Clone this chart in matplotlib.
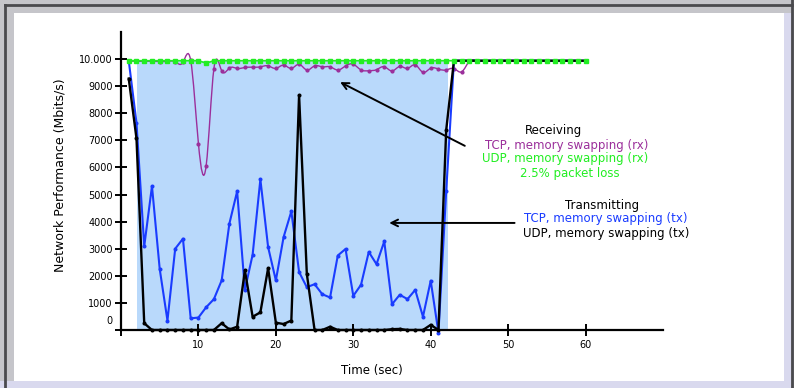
import numpy as np
import matplotlib.pyplot as plt
from matplotlib.patches import Rectangle, PathPatch
from matplotlib.path import Path
from matplotlib.lines import Line2D
from matplotlib.transforms import ScaledTranslation

# data, one value per second (t = 1 .. 60)
t = np.arange(1, 61)

udp_rx = [9940] * 10 + [9850] + [9940] * 49

tcp_rx = [9930, 9920, 9920, 9920, 9910, 9920, 9900, 9880, 9950, 6880,
          6070, 9650, 9570, 9670, 9655, 9690, 9700, 9715, 9750, 9655,
          9780, 9655, 9810, 9595, 9750, 9715, 9715, 9595, 9750, 9810,
          9600, 9570, 9610, 9720, 9560, 9730, 9655, 9790, 9510, 9665,
          9630, 9600, 9650, 9530, 9920] + [9940] * 15

tcp_tx = [9940, 7650, 3090, 5310, 2250, 350, 3000, 3370, 430, 460,
          840, 1140, 1830, 3930, 5120, 1480, 2780, 5560, 3060, 1830,
          3430, 4380, 2140, 1580, 1690, 1320, 1200, 2750, 2990, 1260,
          1670, 2880, 2430, 3270, 950, 1300, 1140, 1480, 490, 1820,
          -100, 5120] + [9940] * 18

udp_tx = [9280, 7070, 250, 0, 0, 0, 0, 0, 0, 0,
          0, 0, 250, 20, 120, 2200, 490, 650, 2280, 270,
          220, 350, 8670, 2070, 0, 0, 120, 0, 0, 0,
          0, 0, 0, 0, 30, 40, 0, 0, 0, 190,
          0, 7380] + [9940] * 18

# memory swapping period (shaded)
swap_start, swap_end, swap_top = 2.07, 42.2, 9940

yticks = [0, 1000, 2000, 3000, 4000, 5000, 6000, 7000, 8000, 9000, 10000]
ytick_labels = ['0', '1000', '2000', '3000', '4000', '5000', '6000',
                '7000', '8000', '9000', '10.000']
xticks = [0, 10, 20, 30, 40, 50, 60]
xtick_labels = ['', '10', '20', '30', '40', '50', '60']

c_purple = '#9b2f9b'
c_green = '#22ee22'
c_blue = '#1a3cff'
c_shade = '#b9d9fb'


def spline_path(x, y):
    # natural cubic spline drawn as bezier segments
    x = np.asarray(x, float)
    y = np.asarray(y, float)
    n = len(x)
    h = np.diff(x)
    A = np.zeros((n, n))
    r = np.zeros(n)
    A[0, 0] = 1
    A[-1, -1] = 1
    for i in range(1, n - 1):
        A[i, i - 1] = h[i - 1]
        A[i, i] = 2 * (h[i - 1] + h[i])
        A[i, i + 1] = h[i]
        r[i] = 6 * ((y[i + 1] - y[i]) / h[i] - (y[i] - y[i - 1]) / h[i - 1])
    M = np.linalg.solve(A, r)
    verts = [(x[0], y[0])]
    codes = [Path.MOVETO]
    for i in range(n - 1):
        s = (y[i + 1] - y[i]) / h[i]
        d0 = s - h[i] * (2 * M[i] + M[i + 1]) / 6
        d1 = s + h[i] * (M[i] + 2 * M[i + 1]) / 6
        verts += [(x[i] + h[i] / 3, y[i] + d0 * h[i] / 3),
                  (x[i + 1] - h[i] / 3, y[i + 1] - d1 * h[i] / 3),
                  (x[i + 1], y[i + 1])]
        codes += [Path.CURVE4] * 3
    return Path(verts, codes)


W, H = 794, 388
fig = plt.figure(figsize=(W / 100, H / 100), dpi=100)
fig.patch.set_facecolor('#c5c5ca')

# window frame, in pixels (y counted from the top)
def px_rect(x0, y0, x1, y1, color):
    fig.patches.append(Rectangle((x0, H - y1), x1 - x0, y1 - y0, transform=None,
                                 facecolor=color, edgecolor='none', zorder=-10))

px_rect(0, 381, 791, 388, '#d9d9ee')
px_rect(784, 13, 791, 381, '#d9d9ee')
px_rect(14, 13, 784, 381, 'white')
for xs, ys in [([5, 5], [5, 388]), ([5, 792], [5, 5]), ([792, 792], [0, 388])]:
    fig.lines.append(Line2D(xs, [H - v for v in ys], transform=None,
                            color='#4a4a4e', lw=2.0, zorder=-5))

ax = fig.add_axes([121 / W, 1 - 330 / H, 542 / W, 298 / H])
ax.set_facecolor('none')

ax.fill_between([swap_start, swap_end], 0, swap_top, color=c_shade, lw=0, zorder=1)

ax.add_patch(PathPatch(spline_path(t, tcp_rx), facecolor='none',
                       edgecolor=c_purple, lw=1.0, zorder=2))
ax.plot(t, tcp_rx, ls='none', marker='o', ms=2.0, color=c_purple, zorder=2)

ax.plot(t, udp_rx, color=c_green, lw=1.2, zorder=3)
ax.plot(t, tcp_tx, color=c_blue, lw=1.5, marker='o', ms=1.9, zorder=3.5, clip_on=False)
ax.plot(t, udp_tx, color='black', lw=1.7, marker='o', ms=1.9, zorder=4, clip_on=False)
ax.plot(t, udp_rx, ls='none', marker='s', ms=2.4, color=c_green, zorder=5)

ax.set_xlim(0, 70)
ax.set_ylim(0, 11000)
for side in ['top', 'right']:
    ax.spines[side].set_visible(False)
for side in ['left', 'bottom']:
    ax.spines[side].set_linewidth(1.6)
    ax.spines[side].set_zorder(6)

ax.set_xticks(xticks)
ax.set_xticklabels(xtick_labels)
ax.set_yticks(yticks)
ax.set_yticklabels(ytick_labels)
ax.tick_params(axis='both', direction='inout', length=8, width=1.4,
               labelsize=7, colors='black')
ax.tick_params(axis='y', pad=2)
ax.tick_params(axis='x', pad=3)

# the "0" label sits a bit above its tick
lab0 = ax.get_yticklabels()[0]
lab0.set_transform(lab0.get_transform() + ScaledTranslation(0, 10 / 100, fig.dpi_scale_trans))

ax.set_xlabel('Time (sec)', fontsize=8.5)
ax.xaxis.set_label_coords(0.463, -0.115)
ax.set_ylabel('Network Performance (Mbits/s)', fontsize=9)
ax.yaxis.set_label_coords(-0.100, 0.52)

# annotations
ax.annotate('', xy=(27.98, 9196), xytext=(44.72, 6752),
            arrowprops=dict(arrowstyle='->', color='black', lw=1.4,
                            mutation_scale=12), zorder=7)
ax.annotate('', xy=(34.28, 3952), xytext=(51.19, 3952),
            arrowprops=dict(arrowstyle='->', color='black', lw=1.4,
                            mutation_scale=12), zorder=7)

txt = dict(fontsize=8.5, ha='center', va='center', clip_on=False, zorder=8)
ax.text(55.9, 7381, 'Receiving', color='black', **txt)
ax.text(57.5, 6815, 'TCP, memory swapping (rx)', color=c_purple, **txt)
ax.text(57.3, 6333, 'UDP, memory swapping (rx)', color=c_green, **txt)
ax.text(58.0, 5778, '2.5% packet loss', color=c_green, **txt)
ax.text(62.1, 4604, 'Transmitting', color='black', **txt)
ax.text(62.6, 4111, 'TCP, memory swapping (tx)', color=c_blue, **txt)
ax.text(62.7, 3556, 'UDP, memory swapping (tx)', color='black', **txt)

fig.savefig('out.png', dpi=100, facecolor=fig.get_facecolor())
